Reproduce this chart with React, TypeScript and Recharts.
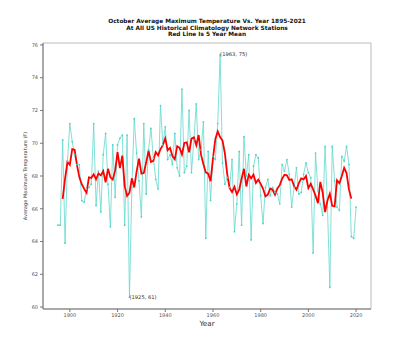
import React from "react";
import { LineChart, Line, XAxis, YAxis, ReferenceArea, LabelList } from "recharts";

// October average max temperature (F), 1895..2020
const temps = [
  65.0, 65.0, 70.2, 63.9, 68.9, 71.2, 70.1, 69.3, 68.7, 68.7,
  66.5, 66.4, 67.2, 67.3, 67.5, 71.2, 66.2, 68.3, 65.8, 69.3,
  70.6, 67.5, 64.9, 69.9, 66.7, 69.9, 70.3, 70.5, 65.0, 70.5,
  60.6, 67.3, 71.5, 69.4, 67.7, 65.5, 71.2, 66.9, 69.6, 70.9,
  69.1, 67.8, 67.2, 72.3, 69.9, 71.0, 69.0, 69.3, 68.7, 70.6,
  68.5, 68.0, 73.3, 68.2, 68.6, 72.0, 68.2, 70.2, 72.4, 69.0,
  69.6, 71.3, 64.2, 69.5, 66.5, 69.2, 69.0, 71.2, 75.4, 68.8,
  67.5, 67.9, 67.3, 69.0, 64.6, 66.3, 69.5, 65.0, 70.4, 68.0,
  69.3, 64.1, 68.6, 69.3, 69.1, 66.8, 65.1, 67.3, 67.8, 66.8,
  67.3, 67.0, 66.9, 66.3, 68.7, 68.3, 69.0, 68.1, 66.1, 67.3,
  68.5, 66.9, 67.0, 68.1, 68.8, 68.2, 67.9, 63.3, 69.4, 67.1,
  66.3, 65.6, 69.8, 66.1, 61.2, 69.8, 67.7, 66.1, 65.9, 69.2,
  68.9, 69.8, 68.7, 64.3, 64.2, 66.1,
];
const firstYear = 1895;
const years = temps.map((_, i) => firstYear + i);

const xTicks = [1900, 1920, 1940, 1960, 1980, 2000, 2020];
const yTicks = [60, 62, 64, 66, 68, 70, 72, 74, 76];

const titleLines = [
  "October Average Maximum Temperature Vs. Year 1895-2021",
  "At All US Historical Climatology Network Stations",
  "Red Line Is 5 Year Mean",
];

const annotations: Record<number, string> = {
  1925: "(1925, 61)",
  1963: "(1963, 75)",
};

// red line: centered 5 year mean of the values above
const data = years.map((year, i) => {
  let mean: number | null = null;
  if (i >= 2 && i < temps.length - 2) {
    mean = temps.slice(i - 2, i + 3).reduce((a, b) => a + b, 0) / 5;
  }
  return { year, temp: temps[i], mean };
});

const xDomain: [number, number] = [1888.75, 2026.25];
const yDomain: [number, number] = [59.88, 76.12];
const font = "DejaVu Sans, sans-serif";

const Note = (props: any) => {
  const label = annotations[data[props.index]?.year];
  if (!label) return null;
  return (
    <text x={props.x} y={props.y + 1.5} fontSize={5.2} fill="#333" fontFamily={font}>
      {label}
    </text>
  );
};

export default function App() {
  return (
    <div style={{ position: "absolute", left: 0, top: 0, width: 400, height: 341, background: "#fff", fontFamily: font }}>
      <div style={{ position: "absolute", left: 43, width: 328, top: 18, textAlign: "center", fontSize: 5.8, fontWeight: "bold", lineHeight: "6.5px", color: "#111" }}>
        {titleLines.map((t) => (
          <div key={t}>{t}</div>
        ))}
      </div>
      <div style={{ position: "absolute", left: 207, top: 319, transform: "translateX(-50%)", fontSize: 7.2, color: "#333", whiteSpace: "nowrap" }}>
        Year
      </div>
      <div style={{ position: "absolute", left: 25, top: 176, transform: "translate(-50%, -50%) rotate(-90deg)", fontSize: 5, color: "#333", whiteSpace: "nowrap" }}>
        Average Maximum Temperature (F)
      </div>
      <LineChart width={400} height={341} data={data} margin={{ top: 43, right: 29, bottom: 0, left: 0 }}>
        <ReferenceArea x1={xDomain[0]} x2={xDomain[1]} y1={yDomain[0]} y2={yDomain[1]} fill="none" stroke="#bbb" strokeWidth={1} ifOverflow="visible" />
        <XAxis
          dataKey="year"
          type="number"
          domain={xDomain}
          ticks={xTicks}
          allowDataOverflow
          height={32}
          tickSize={3}
          tickMargin={1}
          stroke="#777"
          tick={{ fontSize: 5, fill: "#555", fontFamily: font }}
        />
        <YAxis
          type="number"
          domain={yDomain}
          ticks={yTicks}
          allowDataOverflow
          width={43}
          tickSize={3}
          tickMargin={2}
          stroke="#777"
          tick={{ fontSize: 5, fill: "#555", fontFamily: font }}
        />
        <Line
          dataKey="temp"
          type="linear"
          stroke="#62d8cd"
          strokeWidth={0.8}
          dot={{ r: 0.9, fill: "#4fd3c6", stroke: "none" }}
          isAnimationActive={false}
        >
          <LabelList dataKey="temp" content={Note} />
        </Line>
        <Line
          dataKey="mean"
          type="linear"
          stroke="#ff0000"
          strokeWidth={1.8}
          dot={false}
          isAnimationActive={false}
        />
      </LineChart>
    </div>
  );
}
